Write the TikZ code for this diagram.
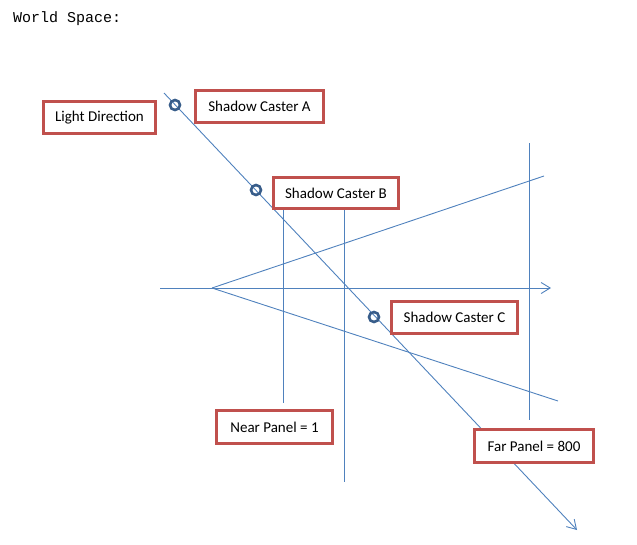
\documentclass[tikz,border=0pt]{standalone}
\usepackage{fontspec}
\setsansfont{Carlito}
\setmonofont{Liberation Mono}
\usetikzlibrary{arrows.meta,positioning}
\definecolor{lineblue}{HTML}{4F81BD}
\definecolor{casterblue}{HTML}{385D8A}
\definecolor{boxred}{HTML}{C0504D}

\begin{document}
\begin{tikzpicture}[x=1pt,y=-1pt,
    ray/.style={draw=lineblue, line width=0.9pt},
    arr/.style={-{Straight Barb[length=9pt,width=11pt,line width=0.9pt]}},
    caster/.style={circle, draw=casterblue, line width=2.6pt, inner sep=0pt, minimum size=10pt},
    tag/.style={draw=boxred, line width=2.6pt, fill=white, inner sep=0pt, font=\sffamily\fontsize{15}{18}\selectfont}]
    \useasboundingbox (0,0) rectangle (637,544);
    \node[anchor=base west, inner sep=0pt, font=\ttfamily\fontsize{15}{17}\selectfont] (title) at (13,22) {World Space:};

    \coordinate (lstart) at (164,93);
    \coordinate (lend) at (577,530);
    \coordinate (axstart) at (160,288);
    \coordinate (axend) at (551,288);
    \coordinate (eye) at (212,288);
    \coordinate (upper) at (544,176);
    \coordinate (lower) at (558,401);
    \coordinate (neartop) at (283,208);
    \coordinate (nearbot) at (283,403);
    \coordinate (midtop) at (344,209);
    \coordinate (midbot) at (344,482);
    \coordinate (fartop) at (529,143);
    \coordinate (farbot) at (529,420);

    \draw[ray, arr] (axstart) -- (axend);
    \draw[ray] (eye) -- (upper);
    \draw[ray] (eye) -- (lower);
    \draw[ray] (neartop) -- (nearbot);
    \draw[ray] (midtop) -- (midbot);
    \draw[ray] (fartop) -- (farbot);
    \draw[ray, arr] (lstart) -- (lend);

    \node[caster] (casterA) at (175,105) {};
    \node[caster] (casterB) at (256,190) {};
    \node[caster] (casterC) at (374,317) {};

    \node[tag, minimum width=112pt, minimum height=32pt] (light) at (99.5,117.5) {Light Direction};
    \node[tag, minimum width=128pt, minimum height=32pt] (tagA) at (259.5,106.5) {Shadow Caster A};
    \node[tag, minimum width=125pt, minimum height=31pt] (tagB) at (336,193) {Shadow Caster B};
    \node[tag, minimum width=126pt, minimum height=32pt] (tagC) at (454.5,317.5) {Shadow Caster C};
    \node[tag, minimum width=116pt, minimum height=33pt] (near) at (274.5,427) {Near Panel = 1};
    \node[tag, minimum width=119pt, minimum height=33pt] (far) at (534,446) {Far Panel = 800};
\end{tikzpicture}
\end{document}
